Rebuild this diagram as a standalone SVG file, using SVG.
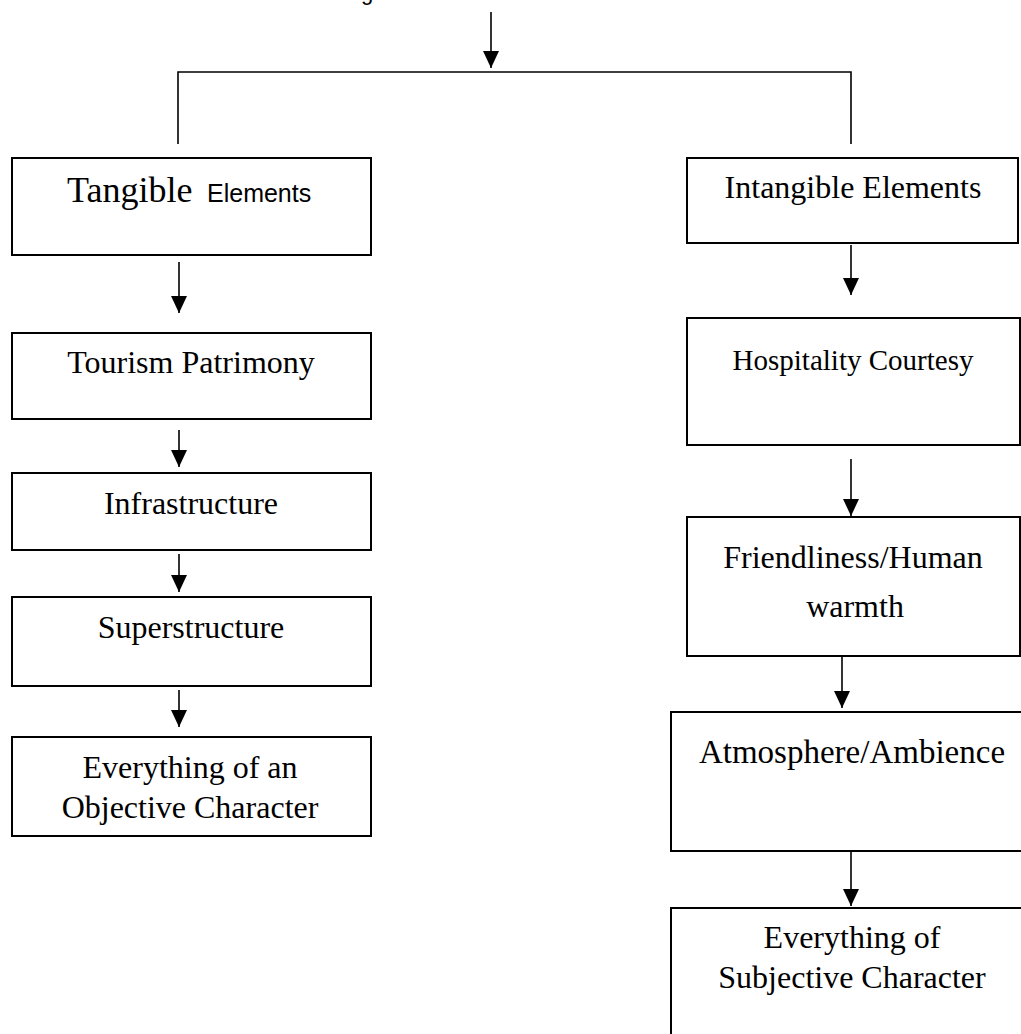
<svg xmlns="http://www.w3.org/2000/svg" width="1021" height="1034" viewBox="0 0 1021 1034">
<style>
  .box { fill: #ffffff; stroke: #000000; stroke-width: 2; }
  .lbl { font-family: "Liberation Serif", "Times New Roman", serif; font-size: 32px; fill: #000000; text-anchor: middle; }
  .conn { fill: none; stroke: #000000; stroke-width: 1.6; }
  .arr { fill: none; stroke: #000000; stroke-width: 1.6; marker-end: url(#ah); }
</style>
<defs>
  <marker id="ah" markerUnits="userSpaceOnUse" markerWidth="17" markerHeight="16" viewBox="0 0 17 16" refX="17" refY="8" orient="auto">
    <path d="M0,0 L17,8 L0,16 z" fill="#000000"/>
  </marker>
</defs>
<rect x="0" y="0" width="1021" height="1034" fill="#ffffff"/>

<text x="361" y="-0.5" font-family="Liberation Sans, Arial, sans-serif" font-size="22" fill="#000000">g</text>

<g id="connectors">
  <line class="arr" x1="491" y1="12" x2="491" y2="68"/>
  <path class="conn" d="M178,144 V72 H851 V144"/>
  <line class="arr" x1="179" y1="262" x2="179" y2="313"/>
  <line class="arr" x1="179" y1="430" x2="179" y2="467"/>
  <line class="arr" x1="179" y1="554" x2="179" y2="592"/>
  <line class="arr" x1="179" y1="690" x2="179" y2="727"/>
  <line class="arr" x1="851" y1="245" x2="851" y2="295"/>
  <line class="arr" x1="851" y1="459" x2="851" y2="516"/>
  <line class="arr" x1="842" y1="652" x2="842" y2="708"/>
  <line class="arr" x1="851" y1="851" x2="851" y2="906"/>
</g>

<g id="tangible">
  <rect class="box" x="12" y="158" width="359" height="97"/>
  <text x="67" y="202" fill="#000000"><tspan font-family="Liberation Serif, Times New Roman, serif" font-size="36">Tangible</tspan><tspan x="207" font-family="Liberation Sans, Arial, sans-serif" font-size="25">Elements</tspan></text>
</g>
<g id="tourism">
  <rect class="box" x="12" y="333" width="359" height="86"/>
  <text class="lbl" x="191" y="373" font-size="31">Tourism Patrimony</text>
</g>
<g id="infrastructure">
  <rect class="box" x="12" y="473" width="359" height="77"/>
  <text class="lbl" x="191" y="514">Infrastructure</text>
</g>
<g id="superstructure">
  <rect class="box" x="12" y="597" width="359" height="89"/>
  <text class="lbl" x="191" y="638">Superstructure</text>
</g>
<g id="objective">
  <rect class="box" x="12" y="737" width="359" height="99"/>
  <text class="lbl" x="190" y="778">Everything of an</text>
  <text class="lbl" x="190" y="818">Objective Character</text>
</g>

<g id="intangible">
  <rect class="box" x="687" y="158" width="331" height="85"/>
  <text class="lbl" x="853" y="198">Intangible Elements</text>
</g>
<g id="hospitality">
  <rect class="box" x="687" y="318" width="333" height="127"/>
  <text class="lbl" x="853" y="370" style="font-size:29px">Hospitality Courtesy</text>
</g>
<g id="friendliness">
  <rect class="box" x="687" y="517" width="333" height="139"/>
  <text class="lbl" x="853" y="568">Friendliness/Human</text>
  <text class="lbl" x="855" y="617">warmth</text>
</g>
<g id="atmosphere">
  <rect class="box" x="671" y="712" width="370" height="139"/>
  <text class="lbl" x="852" y="763" style="font-size:33px">Atmosphere/Ambience</text>
</g>
<g id="subjective">
  <rect class="box" x="671" y="908" width="370" height="140"/>
  <text class="lbl" x="852" y="948">Everything of</text>
  <text class="lbl" x="852" y="988">Subjective Character</text>
</g>
</svg>
